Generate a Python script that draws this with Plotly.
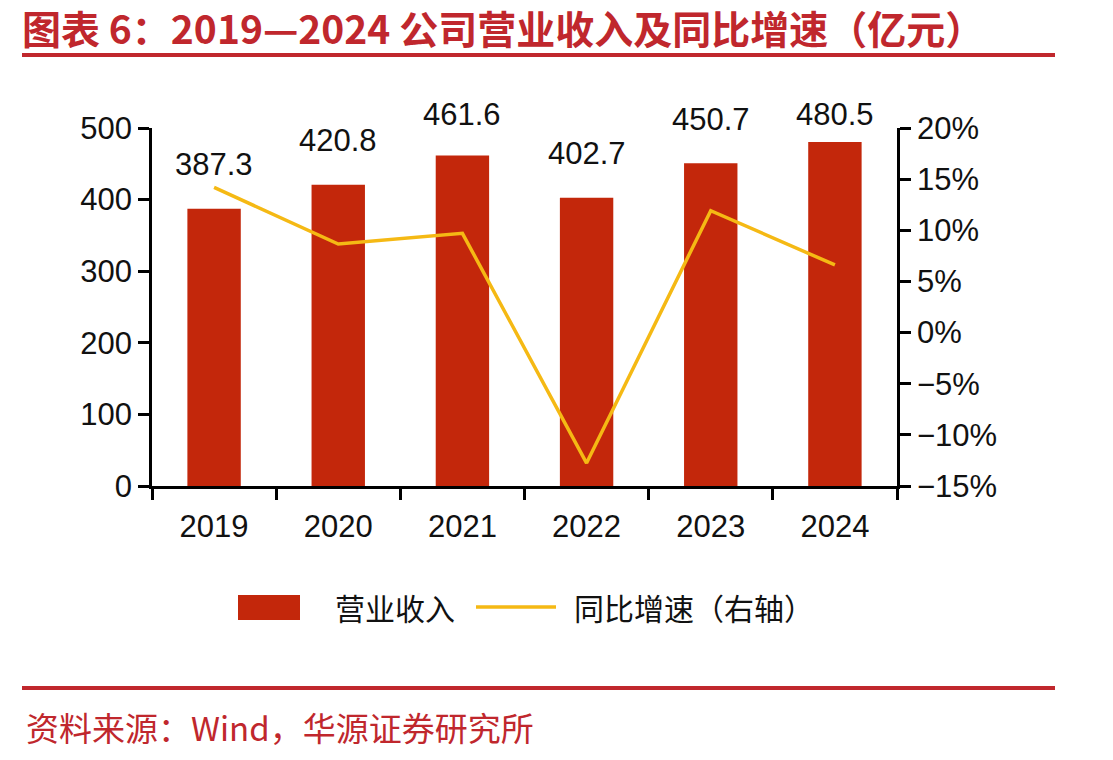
import plotly.graph_objects as go

years = ["2019", "2020", "2021", "2022", "2023", "2024"]
revenue = [387.3, 420.8, 461.6, 402.7, 450.7, 480.5]
growth = [14.2, 8.65, 9.7, -12.76, 11.92, 6.61]
revenue_labels = ["387.3", "420.8", "461.6", "402.7", "450.7", "480.5"]
legend_names = ["营业收入", "同比增速（右轴）"]

W, H = 1113, 760
L, R, T, B = 152, 897, 128, 486

def px(x):
    return (x - L) / (R - L)

def py(y):
    return (B - y) / (B - T)

BAR = "#C3270B"
LINE = "#F5B914"
RED = "#C0272D"
FONT = "Liberation Sans, Arial, sans-serif"
CJK = "Noto Sans CJK SC, sans-serif"

xs = list(range(len(years)))
Y_MAX = 500
px_per_unit = (B - T) / Y_MAX

fig = go.Figure()
fig.add_trace(go.Bar(x=xs, y=revenue, name=legend_names[0], marker=dict(color=BAR, line=dict(width=0)),
                     width=0.43, yaxis="y", showlegend=False))
fig.add_trace(go.Scatter(x=xs, y=growth, name=legend_names[1], mode="lines",
                         line=dict(color=LINE, width=3.5), yaxis="y2", showlegend=False))

annotations = []
for xv, v, t in zip(xs, revenue, revenue_labels):
    # label sits ~44px above the bar top, but no higher than ~13px above the plot top
    shift = min(44, (Y_MAX - v) * px_per_unit + 13)
    annotations.append(dict(x=xv, y=v, xref="x", yref="y", text=t, showarrow=False,
                            yanchor="middle", yshift=shift,
                            font=dict(size=31, color="#111", family=FONT)))

annotations.append(dict(text="资料来源：Wind，华源证券研究所", xref="paper", yref="paper", x=px(24), y=py(727),
                        xanchor="left", yanchor="middle", showarrow=False,
                        font=dict(size=33, color=RED, family=CJK)))
annotations.append(dict(text=legend_names[0], xref="paper", yref="paper", x=px(333), y=py(607),
                        xanchor="left", yanchor="middle", showarrow=False,
                        font=dict(size=30, color="#111", family=CJK)))
annotations.append(dict(text=legend_names[1], xref="paper", yref="paper", x=px(572), y=py(607),
                        xanchor="left", yanchor="middle", showarrow=False,
                        font=dict(size=30, color="#111", family=CJK)))

axis_common = dict(showline=True, linecolor="black", linewidth=2.5, ticks="outside", ticklen=11,
                   tickwidth=2.5, tickcolor="black", tickfont=dict(size=31, family=FONT, color="#111"),
                   showgrid=False, zeroline=False)

fig.update_layout(
    width=W, height=H, autosize=False,
    margin=dict(l=L, r=W - R, t=T, b=H - B),
    paper_bgcolor="white", plot_bgcolor="white",
    font=dict(family=FONT, size=30, color="#111"),
    showlegend=False,
    xaxis=dict(axis_common, range=[-0.5, 5.5], tickvals=xs, ticktext=years, ticklen=0,
               ticklabelstandoff=11,
               minor=dict(tick0=-0.5, dtick=1, ticks="outside", ticklen=11, tickwidth=2.5,
                          tickcolor="black", showgrid=False)),
    yaxis=dict(axis_common, range=[0, Y_MAX], dtick=100),
    yaxis2=dict(axis_common, range=[-15, 20], dtick=5, overlaying="y", side="right", ticksuffix="%"),
    title=dict(text="<b>图表 6：2019—2024 公司营业收入及同比增速（亿元）</b>",
               xref="container", yref="container", x=22 / W, xanchor="left",
               y=1 - 30 / H, yanchor="middle",
               font=dict(size=39, color=RED, family=CJK)),
    shapes=[
        dict(type="line", xref="paper", yref="paper", x0=px(22), x1=px(1055), y0=py(55), y1=py(55),
             line=dict(color=RED, width=4)),
        dict(type="line", xref="paper", yref="paper", x0=px(22), x1=px(1055), y0=py(688), y1=py(688),
             line=dict(color=RED, width=4)),
        dict(type="rect", xref="paper", yref="paper", x0=px(238), x1=px(300), y0=py(595), y1=py(620),
             fillcolor=BAR, line=dict(width=0)),
        dict(type="line", xref="paper", yref="paper", x0=px(476), x1=px(556), y0=py(607), y1=py(607),
             line=dict(color=LINE, width=3.5)),
    ],
    annotations=annotations,
)

fig.write_html("out.html")
